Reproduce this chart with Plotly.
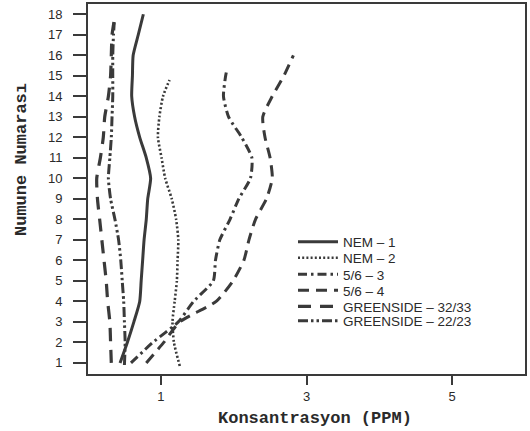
import plotly.graph_objects as go

# ---- data ----
series_names = ["NEM – 1", "NEM – 2", "5/6 – 3", "5/6 – 4",
                "GREENSIDE – 32/33", "GREENSIDE – 22/23"]

nem1_y = [1, 2, 3, 4, 5, 6, 7, 8, 9, 10, 11, 12, 13, 14, 15, 16, 17, 18]
nem1_x = [0.44, 0.54, 0.63, 0.71, 0.73, 0.75, 0.77, 0.80, 0.82, 0.86, 0.80, 0.71,
          0.64, 0.60, 0.61, 0.62, 0.69, 0.76]

nem2_y = [0.85, 2, 3, 4, 5, 6, 7, 8, 9, 10, 11, 12, 13, 14, 14.8]
nem2_x = [1.26, 1.18, 1.16, 1.19, 1.22, 1.23, 1.24, 1.21, 1.15, 1.06, 1.01, 0.96,
          0.98, 1.03, 1.12]

s563_y = [1, 2, 3, 4, 5, 6, 7, 8, 9, 10, 11, 12, 13, 14, 15, 15.35]
s563_x = [0.59, 0.89, 1.24, 1.45, 1.72, 1.75, 1.81, 1.95, 2.07, 2.23, 2.25, 2.11,
          1.93, 1.86, 1.89, 1.91]

s564_y = [1, 2, 3, 4, 5, 6, 7, 8, 9, 10, 11, 12, 13, 14, 15, 16]
s564_x = [0.80, 1.04, 1.26, 1.76, 1.99, 2.14, 2.21, 2.30, 2.45, 2.53, 2.50, 2.43,
          2.40, 2.53, 2.69, 2.82]

g3233_y = [1, 2, 3, 4, 5, 6, 7, 8, 9, 10, 11, 12, 13, 14, 15, 16, 17, 17.7]
g3233_x = [0.32, 0.31, 0.30, 0.27, 0.25, 0.22, 0.19, 0.16, 0.13, 0.12, 0.17, 0.21,
           0.23, 0.28, 0.31, 0.32, 0.33, 0.36]

g2223_y = [0.9, 2, 3, 4, 5, 6, 7, 8, 9, 10, 11, 12, 13, 14, 15, 16, 17, 17.6]
g2223_x = [0.50, 0.51, 0.50, 0.49, 0.47, 0.45, 0.42, 0.37, 0.31, 0.28, 0.30, 0.32,
           0.33, 0.34, 0.34, 0.34, 0.35, 0.36]

x_ticks = [1, 3, 5]
y_ticks = list(range(1, 19))

# ---- styling ----
INK = "#3a3a3a"
styles = [
    dict(dash="solid", width=3),
    dict(dash="2px,2.2px", width=2.6),
    dict(dash="9px,4px,2.5px,4px", width=3),
    dict(dash="11px,7px", width=3),
    dict(dash="13px,9px", width=3.2),
    dict(dash="10px,3px,2.5px,3px,2.5px,3px", width=3),
]
xs = [nem1_x, nem2_x, s563_x, s564_x, g3233_x, g2223_x]
ys = [nem1_y, nem2_y, s563_y, s564_y, g3233_y, g2223_y]

# plot area in pixels
L, R, T, B = 88, 5, 4, 57
W, H = 530, 431
pw, ph = W - L - R, H - T - B
legend_rows_px = [242, 258, 274.5, 290.5, 306.5, 321]
legend_left_px = 293

fig = go.Figure()
legend_keys = ["legend", "legend2", "legend3", "legend4", "legend5", "legend6"]
for i in range(6):
    fig.add_trace(go.Scatter(
        x=xs[i], y=ys[i], mode="lines", name=series_names[i],
        line=dict(color=INK, width=styles[i]["width"], dash=styles[i]["dash"],
                  shape="spline", smoothing=0.6),
        legend=legend_keys[i], showlegend=True,
    ))

legend_font = dict(family="Liberation Sans, Arial, sans-serif", size=13.5, color="#2a2a2a")
layout_legends = {}
for i, key in enumerate(legend_keys):
    layout_legends[key] = dict(
        x=(legend_left_px - L) / pw,
        y=(H - B - legend_rows_px[i]) / ph,
        xanchor="left", yanchor="middle",
        bgcolor="rgba(0,0,0,0)", borderwidth=0,
        font=legend_font, itemwidth=40,
    )

tick_font = dict(family="Liberation Sans, Arial, sans-serif", size=13, color="#2a2a2a")
title_font = dict(family="Liberation Mono, Courier New, monospace", size=17, color="#2a2a2a")

fig.update_layout(
    width=W, height=H,
    margin=dict(l=L, r=R, t=T, b=B, autoexpand=False),
    paper_bgcolor="white", plot_bgcolor="white",
    showlegend=True,
    **layout_legends,
    xaxis=dict(
        range=[0, 6], tickvals=x_ticks, ticktext=[str(v) for v in x_ticks],
        showgrid=False, zeroline=False,
        showline=True, mirror=True, linecolor=INK, linewidth=2,
        ticks="outside", ticklen=9, tickwidth=2, tickcolor=INK,
        tickfont=tick_font, ticklabelstandoff=0,
    ),
    yaxis=dict(
        range=[0.46, 18.5], tickvals=y_ticks,
        showgrid=False, zeroline=False,
        showline=True, mirror=True, linecolor=INK, linewidth=2,
        ticks="outside", ticklen=13, tickwidth=2, tickcolor=INK,
        tickfont=tick_font, ticklabelstandoff=8,
    ),
    annotations=[
        dict(text="<b>Konsantrasyon (PPM)</b>", xref="paper", yref="paper",
             x=(315 - L) / pw, y=(H - B - 418) / ph, xanchor="center", yanchor="middle",
             showarrow=False, font=title_font),
        dict(text="<b>Numune Numarası</b>", xref="paper", yref="paper",
             x=(21 - L) / pw, y=(H - B - 160) / ph, xanchor="center", yanchor="middle",
             textangle=-90, showarrow=False, font=title_font),
    ],
)

fig.write_html("out.html",
               config={"displayModeBar": False},
               post_script="document.body.style.margin='0px';document.body.style.overflow='hidden';")
